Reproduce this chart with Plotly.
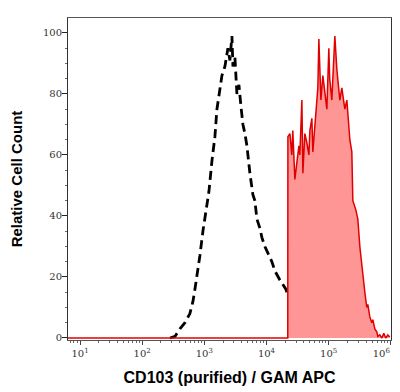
import plotly.graph_objects as go

# Unstained / isotype control (black dashed)
ctrl_x = [280, 337, 405, 488, 586, 656, 706, 789, 849, 949, 1061, 1186, 1325, 1480, 1595,
          1718, 1919, 2144, 2309, 2396, 2580, 2779, 2884, 3106, 3345, 3602, 3880, 4178,
          4499, 4845, 5411, 6043, 6508, 7008, 7827, 8429, 9414, 10510, 12220, 13650,
          15240, 16410, 17680, 19040, 20500, 22100, 23800, 28600, 34400, 41400, 49900, 72200]
ctrl_y = [0, 0.5, 3, 5, 8, 12, 16, 22, 27, 35, 42, 48, 58, 66, 75,
          80, 86, 89, 93, 95, 91, 99, 89, 92, 80, 83, 76, 70,
          67, 63, 54, 47, 45, 39, 36, 33, 30, 28, 25, 22,
          20, 19, 18, 17, 16, 14, 12, 7, 4, 2, 1, 0]

# CD103 stained (red filled)
cd_x = [5, 22000, 22100, 23800, 25500, 26500, 28600, 30800, 33200, 34400, 37100, 38500,
        41400, 44600, 48100, 49900, 53700, 55700, 60000, 64600, 67000, 69600, 75000,
        80700, 86900, 93600, 100700, 104000, 112500, 125800, 135500, 143000, 151400,
        163000, 169200, 182200, 196200, 211000, 219200, 236000, 245000, 273700, 294700,
        317500, 342000, 368000, 382000, 411000, 427000, 459000, 494000, 514000, 553000,
        595000, 618000, 665000, 716000, 771000, 830000, 895000, 960000]
cd_y = [0, 0, 66, 67, 60, 68, 52, 58, 63, 60, 78, 54,
        67, 64, 60, 68, 72, 61, 69, 78, 82, 98, 78,
        86, 80, 75, 95, 85, 78, 99, 88, 82, 78,
        82, 80, 75, 78, 70, 65, 61, 45, 42, 39,
        30, 23, 18, 15, 10, 11, 7, 5, 6, 3,
        2, 0.5, 1, 0, 1.5, 0, 1, 0.3]

x_tickvals = [10, 100, 1000, 10000, 100000, 1000000]
x_ticktext = ["10<sup>1</sup>", "10<sup>2</sup>", "10<sup>3</sup>", "10<sup>4</sup>",
              "10<sup>5</sup>", "10<sup>6</sup>" + "\u00a0" * 6]
y_tickvals = [0, 20, 40, 60, 80, 100]

minor_x = [m * 10 ** d for d in range(0, 6) for m in range(2, 10)]

fig = go.Figure()
fig.add_trace(go.Scatter(x=ctrl_x, y=ctrl_y, mode="lines",
                         line=dict(color="black", width=2.8, dash="9px,5px"),
                         showlegend=False))
fig.add_trace(go.Scatter(x=cd_x, y=cd_y, mode="lines", fill="tozeroy",
                         fillcolor="rgb(255,150,150)",
                         line=dict(color="rgb(225,0,0)", width=1.5),
                         showlegend=False))

tickfont = dict(family="DejaVu Serif", size=10, color="#333")
titlefont = dict(family="Liberation Sans", size=16, color="black", weight="bold")

# The page body has an 8px default margin, so the figure is sized to end at the window edge.
fig.update_layout(
    width=392, height=384,
    margin=dict(l=60, r=9, t=10, b=52, autoexpand=False),
    paper_bgcolor="white", plot_bgcolor="white",
    xaxis=dict(type="log", range=[0.807, 6.003], automargin=False,
               tickvals=x_tickvals, ticktext=x_ticktext,
               ticks="outside", ticklen=4, tickcolor="#444",
               ticklabeloverflow="allow",
               showgrid=False, zeroline=False,
               showline=True, linecolor="#555", linewidth=1, mirror=True,
               tickfont=tickfont,
               minor=dict(tickvals=minor_x, ticks="outside", ticklen=2, tickcolor="#666", showgrid=False),
               title=dict(text="CD103 (purified) / GAM APC", font=titlefont, standoff=13)),
    yaxis=dict(range=[-0.66, 104.9], automargin=False,
               tickvals=y_tickvals,
               ticks="outside", ticklen=5, tickcolor="#222",
               ticklabelstandoff=-2,
               showgrid=False, zeroline=False,
               showline=True, linecolor="#333", linewidth=1, mirror=True,
               tickfont=tickfont,
               minor=dict(dtick=5, ticks="outside", ticklen=2, tickcolor="#666", showgrid=False),
               title=dict(text="Relative Cell Count", font=dict(family="Liberation Sans", size=15,
                                                                 color="black", weight="bold"),
                          standoff=18)),
)

fig.write_html("out.html", config={"displayModeBar": False})
